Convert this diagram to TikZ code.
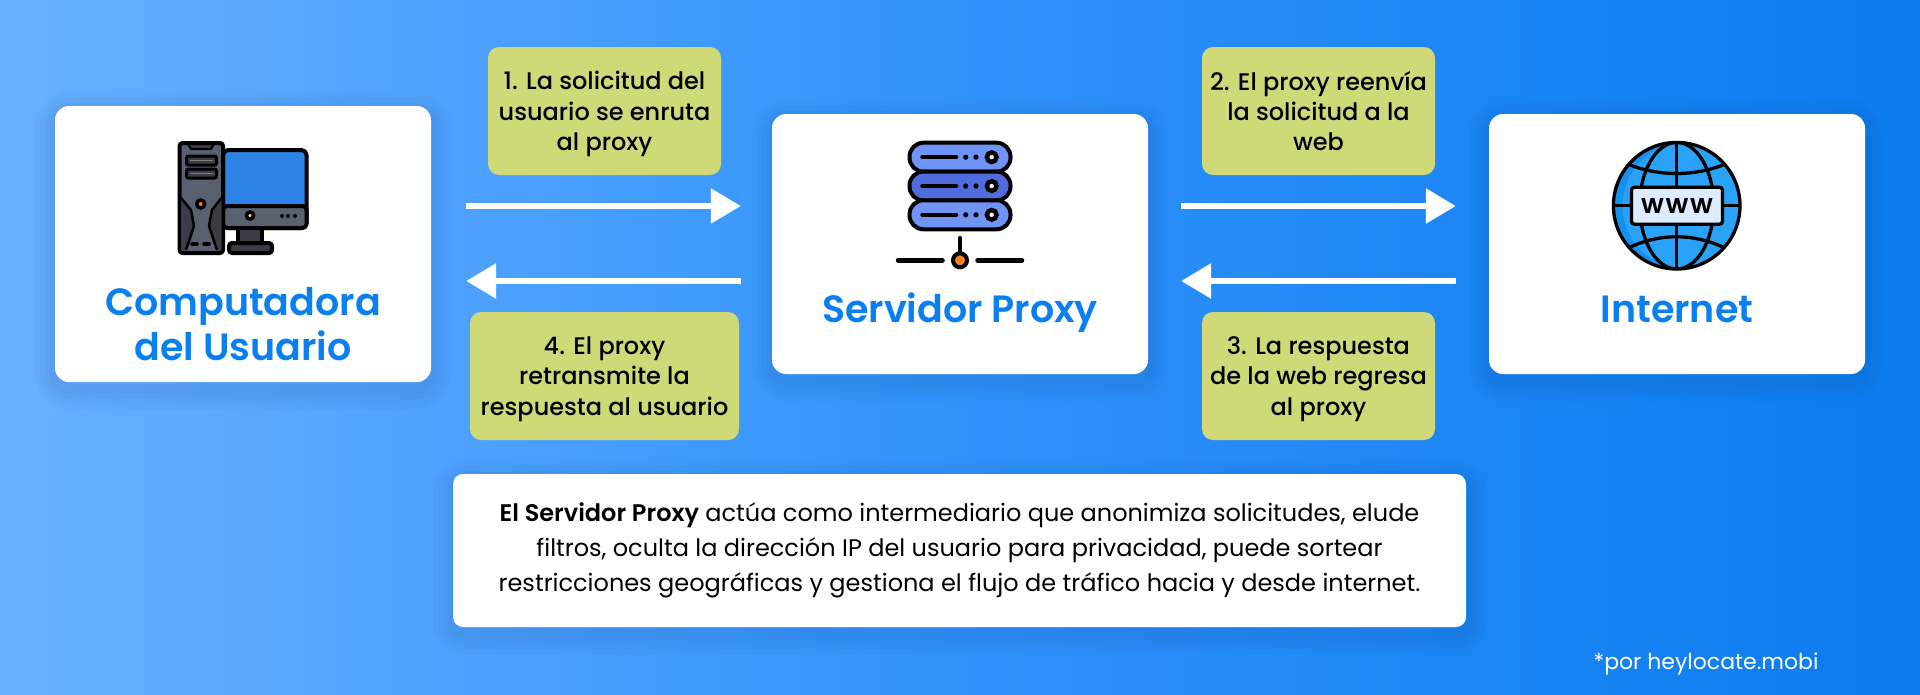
\documentclass[tikz,border=0pt]{standalone}
\usepackage{fontspec}
\setmainfont{Poppins}
\newfontfamily\titlefont{Poppins SemiBold}
\newfontfamily\stepfont{Poppins Medium}
\usetikzlibrary{arrows.meta}
\definecolor{bgleft}{HTML}{69B0FF}
\definecolor{bgmid}{HTML}{3092FB}
\definecolor{bgright}{HTML}{0A7BEE}
\definecolor{titleblue}{HTML}{0A80F0}
\definecolor{stepgreen}{HTML}{CFD977}
\definecolor{shadowblue}{HTML}{123F80}
\definecolor{towergray}{HTML}{596070}
\definecolor{towerdark}{HTML}{3A3D45}
\definecolor{screenblue}{HTML}{2E82E6}
\definecolor{ledorange}{HTML}{F58220}
\definecolor{ledyellow}{HTML}{F5E342}
\definecolor{rackblue}{HTML}{6F94F5}
\definecolor{rackdark}{HTML}{4F6BDC}
\definecolor{globeblue}{HTML}{2AA2F8}
\definecolor{globedark}{HTML}{1590F0}
\definecolor{wwwpale}{HTML}{DCEBFD}
\begin{document}
\begin{tikzpicture}[x=1pt,y=-1pt]
\tikzset{softshadow/.style=
            {preaction={draw=shadowblue,draw opacity=.03,line width=#1,
                        transform canvas={yshift=-7pt}}},
         cardbox/.style=
            {fill=white,rounded corners=14pt,inner sep=0pt,
             softshadow=40pt,softshadow=30pt,softshadow=20pt,softshadow=10pt},
         hostbox/.style=
            {cardbox,minimum width=376pt},
         hosttitle/.style=
            {font=\titlefont\fontsize{38}{45}\selectfont,text=titleblue,align=center},
         stepbox/.style=
            {fill=stepgreen,rounded corners=11pt,minimum height=128pt,align=center,
             inner sep=0pt,text depth=0pt,font=\stepfont\fontsize{24}{30.3}\selectfont},
         flowline/.style=
            {draw=white,line width=6pt,-{Triangle[length=30pt,width=34pt]}},
         iconline/.style=
            {draw=black,line width=4pt,line join=round,line cap=round},
         globeline/.style=
            {iconline,line width=3.3pt}}
\useasboundingbox (0,0) rectangle (1920,694);
\shade[left color=bgleft,right color=bgright,middle color=bgmid] (0,0) rectangle (1920,694);
% hosts
\node[hostbox,minimum height=276pt] (computer) at (243,244) {};
\node[hostbox,minimum height=260pt] (proxy) at (960,244) {};
\node[hostbox,minimum height=260pt] (internet) at (1677,244) {};
\node[hosttitle] (computertitle) at (243,324) {Computadora\\del Usuario};
\node[hosttitle,anchor=base] (proxytitle) at (960,322) {Servidor Proxy};
\node[hosttitle,anchor=base] (internettitle) at (1677,322) {Internet};
% steps
\node[stepbox,minimum width=233pt] (stepone) at (604.5,111) {1. La solicitud del\\usuario se enruta\\al proxy};
\node[stepbox,minimum width=233pt] (steptwo) at (1318.5,111) {2. El proxy reenvía\\la solicitud a la\\web};
\node[stepbox,minimum width=233pt] (stepthree) at (1318.5,376) {3. La respuesta\\de la web regresa\\al proxy};
\node[stepbox,minimum width=269pt] (stepfour) at (604.5,376) {4. El proxy\\retransmite la\\respuesta al usuario};
% arrows
\draw[flowline,shorten <=35pt,shorten >=31pt] ([yshift=38pt]computer.east) -- ([yshift=38pt]proxy.west);
\draw[flowline,shorten <=31pt,shorten >=35pt] ([yshift=-37pt]proxy.west) -- ([yshift=-37pt]computer.east);
\draw[flowline,shorten <=33pt,shorten >=33pt] ([yshift=38pt]proxy.east) -- ([yshift=38pt]internet.west);
\draw[flowline,shorten <=33pt,shorten >=33pt] ([yshift=-37pt]internet.west) -- ([yshift=-37pt]proxy.east);
% note
\node[cardbox,minimum width=1013pt,minimum height=153pt,rounded corners=10pt,align=center,
      font=\fontsize{24}{35}\selectfont,text=black] (note) at (959.5,550.5)
    {{\titlefont El Servidor Proxy} actúa como intermediario que anonimiza solicitudes, elude\\
     filtros, oculta la dirección IP del usuario para privacidad, puede sortear\\
     restricciones geográficas y gestiona el flujo de tráfico hacia y desde internet.};
\node[text=white,font=\fontsize{22}{26}\selectfont] (credit) at (1706,664) {*por heylocate.mobi};
% computer icon
\draw[iconline,fill=screenblue,rounded corners=5pt] (223,150) rectangle (306.5,228);
\draw[iconline,fill=towergray,rounded corners=4pt] (223,206) -- (306.5,206) -- (306.5,228) -- (223,228) -- cycle;
\fill[towerdark] (238,229.5) rectangle (262,243);
\draw[iconline] (238,229) -- (238,243) (262,229) -- (262,243);
\draw[iconline,fill=towerdark,rounded corners=3pt] (229,243) rectangle (272,253);
\draw[line width=3.5pt,fill=ledyellow] (250,215.5) circle (3.5pt);
\foreach \dotx in {282,288,295}
    \fill (\dotx,216) circle (2pt);
\draw[iconline,fill=towergray,rounded corners=3pt] (179.5,143) rectangle (223,253);
\fill[towerdark] (181,198) -- (191,210) -- (194,226) -- (186,250) -- (181,250) -- cycle;
\fill[towerdark] (221.5,198) -- (212,210) -- (209,226) -- (217,250) -- (221.5,250) -- cycle;
\draw[line width=2.5pt,line join=round] (181,198) -- (191,210) -- (194,226) -- (186,250);
\draw[line width=2.5pt,line join=round] (221.5,198) -- (212,210) -- (209,226) -- (217,250);
\draw[line width=2pt,fill=towerdark] (188,144) -- (214,144) -- (211,149) -- (191,149) -- cycle;
\foreach \bayy in {156,169}
    \draw[line width=3pt,fill=towerdark,rounded corners=2pt] (186.5,\bayy) rectangle (216.5,\bayy+9);
\foreach \bayy in {160.5,173.5}
    \draw[line width=1.5pt,draw=gray] (190,\bayy) -- (213,\bayy);
\draw[line width=3.5pt,fill=ledorange] (200.7,204) circle (4pt);
\foreach \dashx in {194.5,206.5}
    \draw[line width=3.5pt,line cap=round] (\dashx-2.5,244) -- (\dashx+2.5,244);
% server icon
\foreach \racky/\rackfill in {157.2/rackblue,186/rackdark,214.8/rackblue}{
    \draw[iconline,fill=\rackfill,rounded corners=14pt] (909.5,\racky-14.5) rectangle (1010.5,\racky+14.5);
    \draw[iconline,line width=4.5pt] (922.5,\racky) -- (956,\racky);
    \fill (965.7,\racky) circle (2.6pt) (976,\racky) circle (2.6pt);
    \draw[line width=4.5pt,fill=white] (991.7,\racky) circle (4.8pt);
}
\draw[iconline,line width=4.5pt] (960,238) -- (960,254);
\draw[iconline,line width=4.5pt] (898,260.3) -- (942.5,260.3) (977.5,260.3) -- (1022,260.3);
\draw[line width=4pt,fill=ledorange] (960,260.3) circle (7pt);
% globe icon
\begin{scope}
\clip (1676.7,205.7) circle (63.3pt);
\fill[globedark] (1676.7,205.7) circle (63.3pt);
\fill[globeblue] (1686,205.7) circle (63.3pt);
\draw[globeline] (1676.7,205.7) ellipse (37pt and 63.3pt);
\draw[globeline] (1676.7,140) -- (1676.7,270) (1610,205.7) -- (1745,205.7);
\draw[globeline] (1625,163) .. controls (1658,177) and (1695,177) .. (1728,163);
\draw[globeline] (1628,248) .. controls (1660,233) and (1693,233) .. (1725,248);
\end{scope}
\draw[globeline] (1676.7,205.7) circle (63.3pt);
\node[draw=black,line width=3.3pt,fill=wwwpale,rounded corners=3pt,minimum width=91pt,minimum height=37pt,
      inner sep=0pt,font=\titlefont\addfontfeature{LetterSpace=6}\fontsize{27}{30}\selectfont] (wwwlabel) at (1677,205.7) {www};
\end{tikzpicture}
\end{document}
